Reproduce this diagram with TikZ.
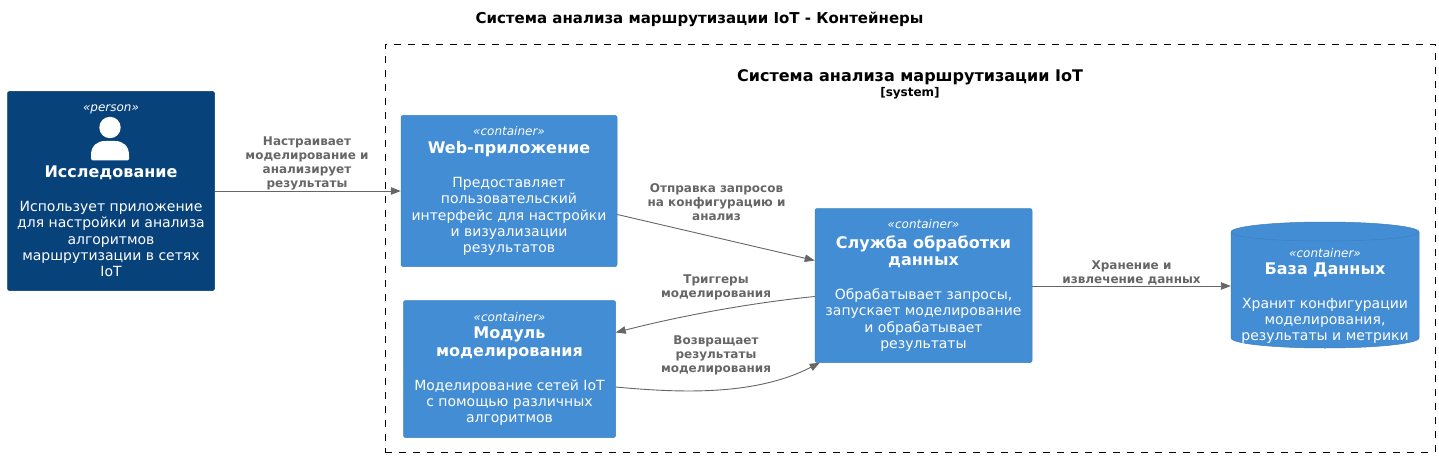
\documentclass[tikz,border=0pt]{standalone}
\usepackage{fontspec}
\setmainfont{DejaVu Sans}
\usetikzlibrary{calc,arrows.meta}
\definecolor{personfill}{HTML}{08427B}
\definecolor{personline}{HTML}{073B6F}
\definecolor{contfill}{HTML}{438DD5}
\definecolor{contline}{HTML}{3C7FC0}
\definecolor{relgrey}{HTML}{666666}
\newcommand{\cstereo}[1]{{\fontsize{12}{14}\selectfont\itshape «#1»}}
\newcommand{\cname}[1]{{\fontsize{16}{18}\selectfont\bfseries #1}}
\tikzset{
  x=1pt,y=-1pt,
  boxbase/.style={align=center,text=white,inner sep=0pt,font=\fontsize{14}{16.4}\selectfont},
  contbox/.style={boxbase,draw=contline,fill=contfill,rounded corners=2pt,line width=0.5pt},
  personbox/.style={boxbase,draw=personline,fill=personfill,rounded corners=2pt,line width=0.5pt},
  reltext/.style={align=center,text=relgrey,inner sep=0pt,font=\fontsize{12}{14}\selectfont\bfseries},
  rel/.style={draw=relgrey,line width=0.9pt,-{Triangle[length=10pt,width=7.5pt]}},
}
\begin{document}
\begin{tikzpicture}
\path[use as bounding box] (0,0) rectangle (1439,457);
\node[font=\fontsize{15}{16}\selectfont\bfseries,inner sep=0pt] (title) at (699.5,19.5) {Система анализа маршрутизации IoT - Контейнеры};
\node[draw=black,dash pattern=on 7pt off 7pt,line width=0.9pt,minimum width=1050pt,minimum height=408pt,inner sep=0pt] (boundary) at (910,248) {};
\node[align=center,inner sep=0pt,font=\fontsize{16}{16}\selectfont\bfseries] (btitle) at (910,84.5) {Система анализа маршрутизации IoT\\[-1pt]{\fontsize{12}{14}\selectfont [system]}};

\node[personbox,minimum width=207pt,minimum height=199pt] (person) at (111,191) {\cstereo{person}\\[50pt]\cname{Исследование}\\[17pt]Использует приложение\\для настройки и анализа\\алгоритмов\\маршрутизации в сетях\\IoT};
\fill[white] (110,127.5) circle (10.7);
\fill[white] (92.5,160.5) .. controls (91.5,160.5) and (91,160) .. (91,159) -- (91,155) .. controls (91,146) and (97,141) .. (105,141) -- (115,141) .. controls (123,141) and (129,146) .. (129,155) -- (129,159) .. controls (129,160) and (128.5,160.5) .. (127.5,160.5) -- cycle;

\node[contbox,minimum width=216pt,minimum height=151pt] (web) at (509,191) {\cstereo{container}\\[2pt]\cname{Web-приложение}\\[17pt]Предоставляет\\пользовательский\\интерфейс для настройки\\и визуализации\\результатов};
\node[contbox,minimum width=212pt,minimum height=137pt] (module) at (509.5,369) {\cstereo{container}\\[1pt]\cname{Модуль}\\[1.5pt]\cname{моделирования}\\[17pt]Моделирование сетей IoT\\с помощью различных\\алгоритмов};
\node[contbox,minimum width=217pt,minimum height=154pt] (service) at (923.5,285.5) {\cstereo{container}\\[3pt]\cname{Служба обработки}\\[1.5pt]\cname{данных}\\[17pt]Обрабатывает запросы,\\запускает моделирование\\и обрабатывает\\результаты};

\path[fill=contfill,draw=contline,line width=0.5pt] (1231,232) .. controls (1231,226.5) and (1273,222) .. (1325,222) .. controls (1377,222) and (1419,226.5) .. (1419,232) -- (1419,338) .. controls (1419,343.5) and (1377,348) .. (1325,348) .. controls (1273,348) and (1231,343.5) .. (1231,338) -- cycle;
\path[draw=contline,line width=0.5pt] (1231,232) .. controls (1231,237.5) and (1273,241) .. (1325,241) .. controls (1377,241) and (1419,237.5) .. (1419,232);
\node[boxbase,minimum width=188pt,minimum height=126pt] (db) at (1325,285) {};
\node[boxbase] (dbtext) at (1325,296) {\cstereo{container}\\[1pt]\cname{База Данных}\\[17pt]Хранит конфигурации\\моделирования,\\результаты и метрики};

\draw[rel] (person.east) -- (web.west);
\draw[rel] ([yshift=-23.5pt]web.east) -- ([yshift=25pt]service.west);
\draw[rel] ([yshift=-11pt]service.west) .. controls (750,303) and (680,316) .. ([yshift=36.5pt]module.east);
\draw[rel] ([yshift=-18pt]module.east) .. controls (680,393) and (755,396) .. ([xshift=5pt]service.south west);
\draw[rel] ([yshift=-0.5pt]service.east) -- ([yshift=-1pt]db.west);

\node[reltext] (l1) at (307,163) {Настраивает\\моделирование и\\анализирует\\результаты};
\node[reltext] (l2) at (716.5,202.5) {Отправка запросов\\на конфигурацию и\\анализ};
\node[reltext] (l3) at (716,287.5) {Триггеры\\моделирования};
\node[reltext] (l4) at (716,355) {Возвращает\\результаты\\моделирования};
\node[reltext] (l5) at (1131.5,272.5) {Хранение и\\извлечение данных};
\end{tikzpicture}
\end{document}
